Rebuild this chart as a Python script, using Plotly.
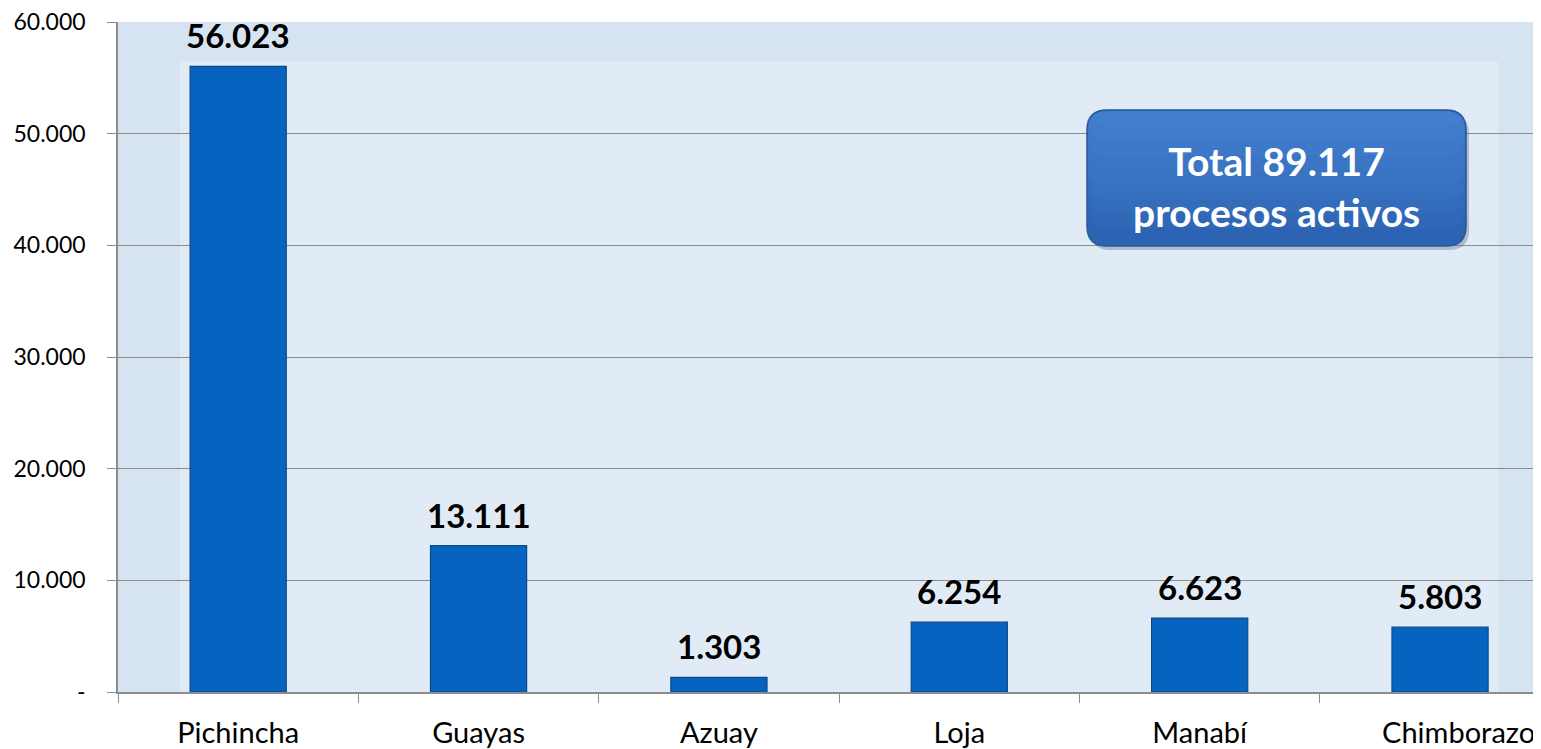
import plotly.graph_objects as go

provincias = ["Pichincha", "Guayas", "Azuay", "Loja", "Manabí", "Chimborazo"]
procesos = [56023, 13111, 1303, 6254, 6623, 5803]
ytick_vals = [0, 10000, 20000, 30000, 40000, 50000, 60000]
ytick_text = ["-", "10.000", "20.000", "30.000", "40.000", "50.000", "60.000"]
total_text = "Total 89.117<br>procesos activos"

def fmt(v):
    return f"{v:,}".replace(",", ".")

FONT = "Lato"

# the last category label sits shifted right in the original (clipped plot edge)
x_ticktext = provincias[:-1] + ["\u00a0" * 5 + provincias[-1]]

fig = go.Figure()
fig.add_trace(go.Bar(
    x=provincias, y=procesos, width=0.4,
    marker=dict(color="#0763C0", line=dict(color="#0A4A8A", width=1.2)),
    hoverinfo="skip",
))

annotations = []
for p, v in zip(provincias, procesos):
    annotations.append(dict(x=p, y=v, xref="x", yref="y", text=f"<b>{fmt(v)}</b>",
                            showarrow=False, yanchor="bottom", yshift=9,
                            font=dict(family=FONT, size=33, color="#000000")))

# page offset (body margin 8px)
OX, OY = 8, 8
L, T, PB = 118, 22, 692  # plot area in page px
W, H = 1541.0 - L, float(PB - T)

def px2paper(px, py):
    return (px - L) / W, (PB - py) / H

def rrect(px0, py0, px1, py1, r):
    x0, y1 = px2paper(px0, py0)
    x1, y0 = px2paper(px1, py1)
    rx, ry = r / W, r / H
    return (f"M {x0+rx},{y0} L {x1-rx},{y0} Q {x1},{y0} {x1},{y0+ry} "
            f"L {x1},{y1-ry} Q {x1},{y1} {x1-rx},{y1} L {x0+rx},{y1} "
            f"Q {x0},{y1} {x0},{y1-ry} L {x0},{y0+ry} Q {x0},{y0} {x0+rx},{y0} Z")

bx0, by0, bx1, by1 = 1087, 110, 1466, 246
ix0, _ = px2paper(180, 0)
ix1, iy1 = px2paper(1498, 62)

shapes = [
    dict(type="rect", xref="paper", yref="paper", x0=ix0, x1=ix1, y0=0, y1=iy1,
         fillcolor="#E0EBF6", line=dict(width=0), layer="below"),
    dict(type="path", xref="paper", yref="paper", path=rrect(bx0 + 3, by0 + 4, bx1 + 3, by1 + 4, 20),
         fillcolor="rgba(80,100,130,0.35)", line=dict(width=0), layer="above"),
    dict(type="path", xref="paper", yref="paper", path=rrect(bx0, by0, bx1, by1, 20),
         fillcolor="#2C63B2", line=dict(color="#2A5A9A", width=1.5), layer="above"),
]
# soft vertical gradient: stacked translucent bands from the top
for k in range(1, 9):
    hgt = (by1 - by0 - 4) * k / 9
    shapes.append(dict(type="path", xref="paper", yref="paper",
                       path=rrect(bx0 + 1, by0 + 1, bx1 - 1, by0 + 1 + hgt, 19),
                       fillcolor="rgba(90,150,230,0.09)", line=dict(width=0), layer="above"))

cx0, cy1 = px2paper(bx0, by0)
cx1, cy0 = px2paper(bx1, by1)
annotations.append(dict(x=(cx0 + cx1) / 2, y=(cy0 + cy1) / 2, xref="paper", yref="paper",
                        text=f"<b>{total_text}</b>", showarrow=False, yshift=-9,
                        font=dict(family=FONT, size=39, color="#FFFFFF"),
                        align="center", xanchor="center", yanchor="middle"))

fig.update_layout(
    width=1541 - OX, height=749 - OY,
    margin=dict(l=L - OX, r=0, t=T - OY, b=(749 - OY) - (PB - OY), autoexpand=False),
    paper_bgcolor="#FFFFFF",
    plot_bgcolor="#D6E3F1",
    showlegend=False,
    shapes=shapes,
    annotations=annotations,
    font=dict(family=FONT, color="#000000"),
    xaxis=dict(
        range=[-0.5, 5.42], tickson="boundaries", ticks="outside", ticklen=9,
        tickmode="array", tickvals=provincias, ticktext=x_ticktext, tickangle=0,
        tickcolor="#8C8C8C", showline=True, linecolor="#8C8C8C", linewidth=1.5,
        showgrid=False, tickfont=dict(family=FONT, size=29, color="#000000"),
        ticklabelstandoff=14, fixedrange=True, automargin=False,
        ticklabeloverflow="allow",
    ),
    yaxis=dict(
        range=[0, 60005], tickvals=ytick_vals, ticktext=ytick_text,
        ticks="outside", ticklen=9, tickcolor="#8C8C8C",
        showline=True, linecolor="#8C8C8C", linewidth=1.5,
        showgrid=True, gridcolor="#8C8C8C", gridwidth=1, zeroline=False,
        tickfont=dict(family=FONT, size=23, color="#000000"),
        ticklabelstandoff=17, fixedrange=True, automargin=False,
        ticklabeloverflow="allow",
    ),
)

fig.write_html("out.html")
